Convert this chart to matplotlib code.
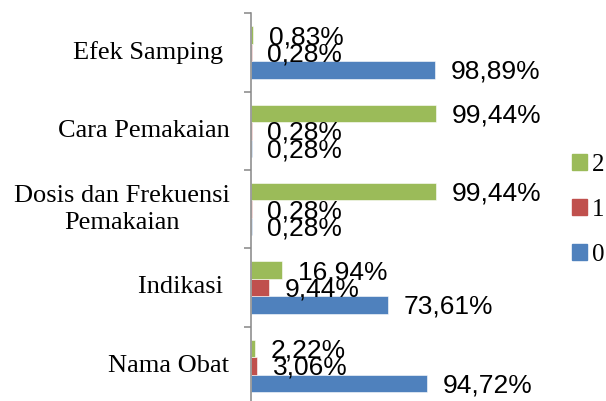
import numpy as np
import matplotlib
matplotlib.use("Agg")
import matplotlib.pyplot as plt
from matplotlib.patches import Patch

# categories from bottom to top
categories = ["Nama Obat", "Indikasi ", "Dosis dan Frekuensi\nPemakaian",
              "Cara Pemakaian", "Efek Samping "]
series_names = ["0", "1", "2"]
vals_0 = [94.72, 73.61, 0.28, 0.28, 98.89]
vals_1 = [3.06, 9.44, 0.28, 0.28, 0.28]
vals_2 = [2.22, 16.94, 99.44, 99.44, 0.83]
colors = ["#4F81BD", "#C0504D", "#9BBB59"]

fig = plt.figure(figsize=(6.06, 4.01), dpi=100)
ax = fig.add_axes([251 / 606, -4 / 401, 185.7 / 606, 391.7 / 401])

y = np.arange(len(categories))
w = 0.222
for i, (vals, col) in enumerate(zip([vals_0, vals_1, vals_2], colors)):
    pos = y + (i - 1) * w
    ax.barh(pos, vals, height=w, color=col, edgecolor="white", linewidth=0.4)
    for p, v in zip(pos, vals):
        ax.annotate(f"{v:.2f}".replace(".", ",") + "%", (v, p),
                    xytext=(11.5, -1.5), textcoords="offset points",
                    ha="left", va="center", fontsize=19,
                    family="Liberation Sans", color="black")

ax.set_xlim(0, 100)
ax.set_ylim(-0.5, len(categories) - 0.5)
ax.set_yticks(y)
ax.set_yticklabels([])
# category labels drawn as text so the two-line label keeps its spacing
for yi, cat in zip(y, categories):
    ax.annotate(cat, (0, yi), xycoords=("axes fraction", "data"),
                xytext=(-15.5, 0), textcoords="offset points",
                ha="right", va="center", multialignment="center",
                linespacing=1.3, family="Liberation Serif", fontsize=19)
ax.set_yticks(np.arange(-0.5, len(categories), 1), minor=True)
ax.tick_params(axis="y", which="major", length=0)
ax.tick_params(axis="y", which="minor", length=5, width=1.1, color="#868686")
ax.set_xticks([])
for s in ["top", "right", "bottom"]:
    ax.spines[s].set_visible(False)
ax.spines["left"].set_color("#868686")
ax.spines["left"].set_linewidth(1.1)

handles = [Patch(color=colors[i]) for i in [2, 1, 0]]
fig.legend(handles, ["2", "1", "0"], loc="center left",
           bbox_to_anchor=(572 / 606, 1 - 210 / 401), frameon=False,
           borderpad=0, borderaxespad=0, handlelength=0.6,
           handleheight=0.6, handletextpad=0.2, labelspacing=0.92,
           prop={"family": "Liberation Serif", "size": 18})

fig.savefig("out.png", dpi=100)
